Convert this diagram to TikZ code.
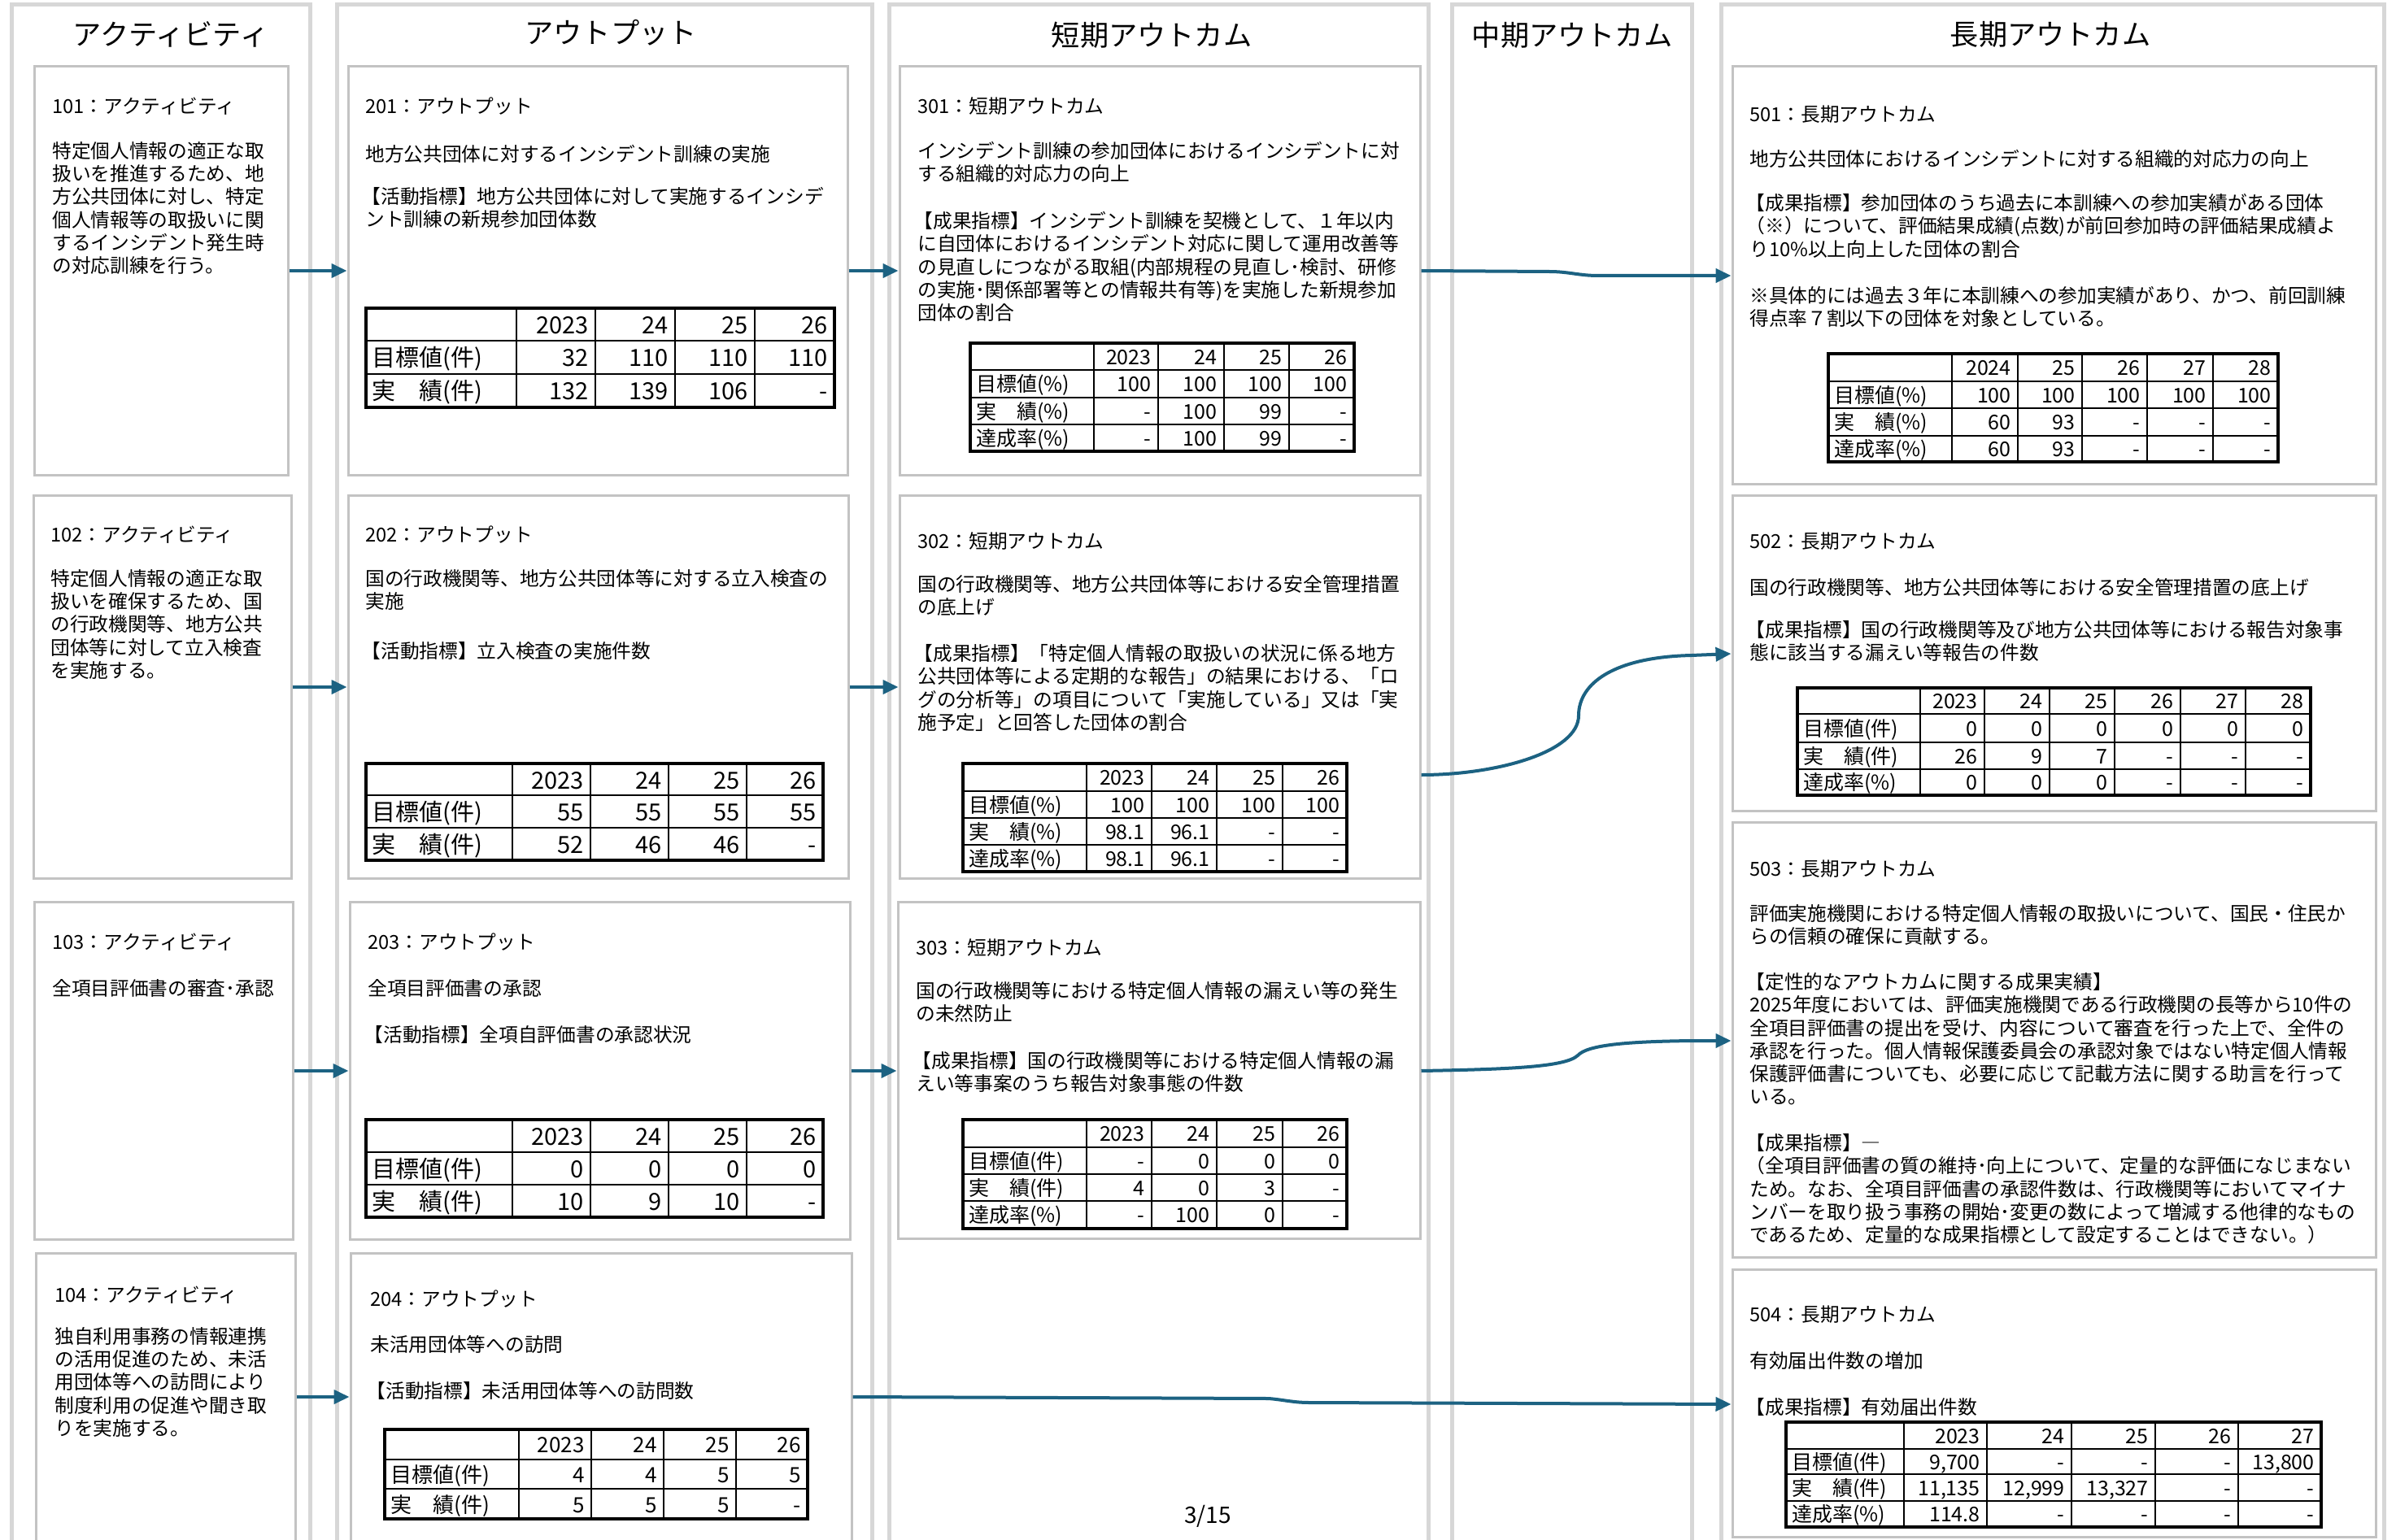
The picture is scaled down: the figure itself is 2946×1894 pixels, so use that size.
\documentclass[tikz,border=0pt]{standalone}
\usepackage{fontspec}
\setmainfont{Noto Sans CJK JP}
\usetikzlibrary{arrows.meta,fit}
\definecolor{arrowc}{RGB}{28,98,130}
\definecolor{lanec}{RGB}{215,215,215}
\definecolor{boxc}{RGB}{195,195,195}
\newcommand\bodyf{\fontsize{11.85pt}{14.15pt}\selectfont}
\newcommand\headf{\fontsize{17.6pt}{20pt}\selectfont}
\newcommand\tfA{\fontsize{14.5pt}{17pt}\selectfont}
\newcommand\tfB{\fontsize{13pt}{15pt}\selectfont}
\newcommand\tfC{\fontsize{12.5pt}{15pt}\selectfont}
\newcommand\pgnf{\fontsize{14pt}{16pt}\selectfont}
\newcommand\ob{\kern-.2em}
\tikzset{
 lane/.style={draw=lanec, line width=2.5pt, fill=white, inner sep=0pt},
 box/.style={draw=boxc, line width=1.5pt, fill=white, inner sep=0pt},
 head/.style={font=\headf, inner sep=0pt},
 txt/.style={anchor=north west, inner sep=0pt, align=left, font=\bodyf, execute at begin node={\rule{0pt}{12pt}}},
 arr/.style={draw=arrowc, line width=2pt, -{Triangle[length=9.5pt,width=8.5pt]}},
 tout/.style={draw=black, line width=1.7pt},
 tin/.style={draw=black, line width=1.3pt},
 tl/.style={anchor=base west, inner sep=0pt},
 tn/.style={anchor=base east, inner sep=0pt},
}
\newcommand\tgrid[6]{%
  \draw[tin] \foreach \xx in {#5} {(\xx,#3) -- (\xx,#4)};%
  \draw[tin] \foreach \yy in {#6} {(#1,\yy) -- (#2,\yy)};%
  \draw[tout] (#1,#3) rectangle (#2,#4);%
}
\newcommand\trow[4]{%
  \node[tl] at (#1+7,#2) {#3};%
  \foreach \xx/\vv in {#4} {\node[tn] at (\xx-8,#2) {\vv};}%
}
\begin{document}
\begin{tikzpicture}[x=0.5pt,y=-0.5pt]
\useasboundingbox (0,0) rectangle (2946,1894);
\clip (0,0) rectangle (2946,1894);
\fill[white] (0,0) rectangle (2946,1894);

% lanes
\node[lane, fit={(14,6) (381,1930)}] (lane1) {};
\node[lane, fit={(414,6) (1072,1930)}] (lane2) {};
\node[lane, fit={(1093,6) (1756,1930)}] (lane3) {};
\node[lane, fit={(1785,6) (2080,1930)}] (lane4) {};
\node[lane, fit={(2116,6) (2931,1930)}] (lane5) {};
\node[head] (t1) at (210,42) {アクティビティ};
\node[head] (t2) at (751,40) {アウトプット};
\node[head] (t3) at (1416,43) {短期アウトカム};
\node[head] (t4) at (1933,43) {中期アウトカム};
\node[head] (t5) at (2521,42) {長期アウトカム};

% boxes
\node[box, fit={(42,82) (354,584)}] (b101) {};
\node[box, fit={(41,609) (358,1080)}] (b102) {};
\node[box, fit={(42,1109) (360,1524)}] (b103) {};
\node[box, fit={(44,1541) (363,1930)}] (b104) {};
\node[box, fit={(428,82) (1042,584)}] (b201) {};
\node[box, fit={(428,609) (1043,1080)}] (b202) {};
\node[box, fit={(430,1109) (1045,1524)}] (b203) {};
\node[box, fit={(431,1541) (1047,1930)}] (b204) {};
\node[box, fit={(1106,82) (1746,584)}] (b301) {};
\node[box, fit={(1106,609) (1746,1080)}] (b302) {};
\node[box, fit={(1104,1109) (1746,1523)}] (b303) {};
\node[box, fit={(2130,82) (2921,595)}] (b501) {};
\node[box, fit={(2130,609) (2921,997)}] (b502) {};
\node[box, fit={(2130,1011) (2921,1546)}] (b503) {};
\node[box, fit={(2130,1561) (2921,1890)}] (b504) {};

% texts
\node[txt] (h101) at (64,115) {101：アクティビティ};
\node[txt] (x101) at (64,174) {特定個人情報の適正な取\\扱いを推進するため、地\\方公共団体に対し、特定\\個人情報等の取扱いに関\\するインシデント発生時\\の対応訓練を行う。};
\node[txt] (h201) at (449,115) {201：アウトプット};
\node[txt] (x201a) at (449,174) {地方公共団体に対するインシデント訓練の実施};
\node[txt] (x201b) at (449,230) {\ob【活動指標】地方公共団体に対して実施するインシデ\\ント訓練の新規参加団体数};
\node[txt] (h301) at (1128,115) {301：短期アウトカム};
\node[txt] (x301a) at (1128,174) {インシデント訓練の参加団体におけるインシデントに対\\する組織的対応力の向上};
\node[txt] (x301b) at (1128,260) {\ob【成果指標】インシデント訓練を契機として、１年以内\\に自団体におけるインシデント対応に関して運用改善等\\の見直しにつながる取組(内部規程の見直し･検討、研修\\の実施･関係部署等との情報共有等)を実施した新規参加\\団体の割合};
\node[txt] (h501) at (2151,125) {501：長期アウトカム};
\node[txt] (x501a) at (2151,180) {地方公共団体におけるインシデントに対する組織的対応力の向上};
\node[txt] (x501b) at (2151,238) {\ob【成果指標】参加団体のうち過去に本訓練への参加実績がある団体\\\ob（※）について、評価結果成績(点数)が前回参加時の評価結果成績よ\\り10\%以上向上した団体の割合};
\node[txt] (x501c) at (2151,352) {※具体的には過去３年に本訓練への参加実績があり、かつ、前回訓練\\得点率７割以下の団体を対象としている。};

\node[txt] (h102) at (62,642) {102：アクティビティ};
\node[txt] (x102) at (62,700) {特定個人情報の適正な取\\扱いを確保するため、国\\の行政機関等、地方公共\\団体等に対して立入検査\\を実施する。};
\node[txt] (h202) at (449,642) {202：アウトプット};
\node[txt] (x202a) at (449,700) {国の行政機関等、地方公共団体等に対する立入検査の\\実施};
\node[txt] (x202b) at (449,785) {\ob【活動指標】立入検査の実施件数};
\node[txt] (h302) at (1128,650) {302：短期アウトカム};
\node[txt] (x302a) at (1128,707) {国の行政機関等、地方公共団体等における安全管理措置\\の底上げ};
\node[txt] (x302b) at (1128,792) {\ob【成果指標】「特定個人情報の取扱いの状況に係る地方\\公共団体等による定期的な報告」の結果における、「ロ\\グの分析等」の項目について「実施している」又は「実\\施予定」と回答した団体の割合};
\node[txt] (h502) at (2151,650) {502：長期アウトカム};
\node[txt] (x502a) at (2151,707) {国の行政機関等、地方公共団体等における安全管理措置の底上げ};
\node[txt] (x502b) at (2151,763) {\ob【成果指標】国の行政機関等及び地方公共団体等における報告対象事\\態に該当する漏えい等報告の件数};

\node[txt] (h103) at (64,1143) {103：アクティビティ};
\node[txt] (x103) at (64,1200) {全項目評価書の審査･承認};
\node[txt] (h203) at (452,1143) {203：アウトプット};
\node[txt] (x203a) at (452,1200) {全項目評価書の承認};
\node[txt] (x203b) at (452,1257) {\ob【活動指標】全項自評価書の承認状況};
\node[txt] (h303) at (1126,1150) {303：短期アウトカム};
\node[txt] (x303a) at (1126,1207) {国の行政機関等における特定個人情報の漏えい等の発生\\の未然防止};
\node[txt] (x303b) at (1126,1293) {\ob【成果指標】国の行政機関等における特定個人情報の漏\\えい等事案のうち報告対象事態の件数};
\node[txt] (h503) at (2151,1053) {503：長期アウトカム};
\node[txt] (x503a) at (2151,1112) {評価実施機関における特定個人情報の取扱いについて、国民・住民か\\らの信頼の確保に貢献する。};
\node[txt] (x503b) at (2151,1196) {\ob【定性的なアウトカムに関する成果実績】\\2025年度においては、評価実施機関である行政機関の長等から10件の\\全項目評価書の提出を受け、内容について審査を行った上で、全件の\\承認を行った。個人情報保護委員会の承認対象ではない特定個人情報\\保護評価書についても、必要に応じて記載方法に関する助言を行って\\いる。};
\node[txt] (x503c) at (2151,1394) {\ob【成果指標】―\\\ob（全項目評価書の質の維持･向上について、定量的な評価になじまない\\ため。なお、全項目評価書の承認件数は、行政機関等においてマイナ\\ンバーを取り扱う事務の開始･変更の数によって増減する他律的なもの\\であるため、定量的な成果指標として設定することはできない。）};

\node[txt] (h104) at (67,1577) {104：アクティビティ};
\node[txt] (x104) at (67,1632) {独自利用事務の情報連携\\の活用促進のため、未活\\用団体等への訪問により\\制度利用の促進や聞き取\\りを実施する。};
\node[txt] (h204) at (455,1582) {204：アウトプット};
\node[txt] (x204a) at (455,1638) {未活用団体等への訪問};
\node[txt] (x204b) at (455,1695) {\ob【活動指標】未活用団体等への訪問数};
\node[txt] (h504) at (2151,1601) {504：長期アウトカム};
\node[txt] (x504a) at (2151,1658) {有効届出件数の増加};
\node[txt] (x504b) at (2151,1715) {\ob【成果指標】有効届出件数};

% tables
\begin{scope}[font=\tfA]
\tgrid{450}{1026}{379}{501}{635,732,830,928}{419,460}
\trow{450}{410}{}{732/2023,830/24,928/25,1026/26}
\trow{450}{451}{目標値(件)}{732/32,830/110,928/110,1026/110}
\trow{450}{491}{実　績(件)}{732/132,830/139,928/106,1026/-}
\tgrid{450}{1012}{939}{1058}{630,726,822,918}{978,1018}
\trow{450}{970}{}{726/2023,822/24,918/25,1012/26}
\trow{450}{1009}{目標値(件)}{726/55,822/55,918/55,1012/55}
\trow{450}{1049}{実　績(件)}{726/52,822/46,918/46,1012/-}
\tgrid{450}{1012}{1377}{1497}{630,726,822,918}{1417,1457}
\trow{450}{1408}{}{726/2023,822/24,918/25,1012/26}
\trow{450}{1448}{目標値(件)}{726/0,822/0,918/0,1012/0}
\trow{450}{1488}{実　績(件)}{726/10,822/9,918/10,1012/-}
\end{scope}
\begin{scope}[font=\tfB]
\tgrid{473}{993}{1758}{1868}{638,727,816,905}{1795,1831}
\trow{473}{1786}{}{727/2023,816/24,905/25,993/26}
\trow{473}{1823}{目標値(件)}{727/4,816/4,905/5,993/5}
\trow{473}{1860}{実　績(件)}{727/5,816/5,905/5,993/-}
\end{scope}
\begin{scope}[font=\tfC]
\tgrid{1193}{1665}{422}{555}{1345,1424,1505,1585}{455,489,522}
\trow{1193}{448}{}{1424/2023,1505/24,1585/25,1665/26}
\trow{1193}{481}{目標値(\%)}{1424/100,1505/100,1585/100,1665/100}
\trow{1193}{515}{実　績(\%)}{1424/-,1505/100,1585/99,1665/-}
\trow{1193}{548}{達成率(\%)}{1424/-,1505/100,1585/99,1665/-}
\tgrid{1184}{1656}{939}{1072}{1336,1416,1496,1577}{973,1006,1039}
\trow{1184}{965}{}{1416/2023,1496/24,1577/25,1656/26}
\trow{1184}{999}{目標値(\%)}{1416/100,1496/100,1577/100,1656/100}
\trow{1184}{1032}{実　績(\%)}{1416/98.1,1496/96.1,1577/-,1656/-}
\trow{1184}{1065}{達成率(\%)}{1416/98.1,1496/96.1,1577/-,1656/-}
\tgrid{1184}{1656}{1377}{1511}{1336,1416,1496,1577}{1411,1444,1477}
\trow{1184}{1403}{}{1416/2023,1496/24,1577/25,1656/26}
\trow{1184}{1437}{目標値(件)}{1416/-,1496/0,1577/0,1656/0}
\trow{1184}{1470}{実　績(件)}{1416/4,1496/0,1577/3,1656/-}
\trow{1184}{1503}{達成率(\%)}{1416/-,1496/100,1577/0,1656/-}
\tgrid{2248}{2801}{435}{568}{2400,2481,2560,2640,2721}{469,502,536}
\trow{2248}{461}{}{2481/2024,2560/25,2640/26,2721/27,2801/28}
\trow{2248}{495}{目標値(\%)}{2481/100,2560/100,2640/100,2721/100,2801/100}
\trow{2248}{528}{実　績(\%)}{2481/60,2560/93,2640/-,2721/-,2801/-}
\trow{2248}{561}{達成率(\%)}{2481/60,2560/93,2640/-,2721/-,2801/-}
\tgrid{2210}{2841}{846}{978}{2361,2440,2520,2600,2681,2761}{878,913,946}
\trow{2210}{871}{}{2440/2023,2520/24,2600/25,2681/26,2761/27,2841/28}
\trow{2210}{905}{目標値(件)}{2440/0,2520/0,2600/0,2681/0,2761/0,2841/0}
\trow{2210}{939}{実　績(件)}{2440/26,2520/9,2600/7,2681/-,2761/-,2841/-}
\trow{2210}{971}{達成率(\%)}{2440/0,2520/0,2600/0,2681/-,2761/-,2841/-}
\tgrid{2196}{2854}{1749}{1878}{2341,2443,2547,2650,2752}{1782,1813,1846}
\trow{2196}{1775}{}{2443/2023,2547/24,2650/25,2752/26,2854/27}
\trow{2196}{1807}{目標値(件)}{2443/9{,}700,2547/-,2650/-,2752/-,2854/13{,}800}
\trow{2196}{1839}{実　績(件)}{2443/11{,}135,2547/12{,}999,2650/13{,}327,2752/-,2854/-}
\trow{2196}{1871}{達成率(\%)}{2443/114.8,2547/-,2650/-,2752/-,2854/-}
\end{scope}

\node[font=\pgnf, inner sep=0pt] (pg) at (1485,1865) {3/15};

% arrows
\draw[arr] (b101.east |- 0,333) -- (b201.west |- 0,333);
\draw[arr] (b201.east |- 0,333) -- (b301.west |- 0,333);
\draw[arr] (b102.east |- 0,845) -- (b202.west |- 0,845);
\draw[arr] (b202.east |- 0,845) -- (b302.west |- 0,845);
\draw[arr] (b103.east |- 0,1317) -- (b203.west |- 0,1317);
\draw[arr] (b203.east |- 0,1317) -- (b303.west |- 0,1317);
\draw[arr] (b104.east |- 0,1718) -- (b204.west |- 0,1718);
\draw[arr] (b204.east |- 0,1718) -- (1560,1720) to[out=-5,in=180] (1610,1725) -- (b504.west |- 0,1727);
\draw[arr] (b301.east |- 0,333) -- (1905,334) to[out=0,in=180] (1965,339) -- (b501.west |- 0,339);
\draw[arr] (b302.east |- 0,953) .. controls (1840,953) and (1941,925) .. (1941,880) .. controls (1941,840) and (1985,808) .. (2080,806) -- (b502.west |- 0,804);
\draw[arr] (b303.east |- 0,1317) .. controls (1860,1315) and (1925,1312) .. (1940,1298) .. controls (1952,1285) and (2000,1281) .. (2080,1280) -- (b503.west |- 0,1280);
\end{tikzpicture}
\end{document}
